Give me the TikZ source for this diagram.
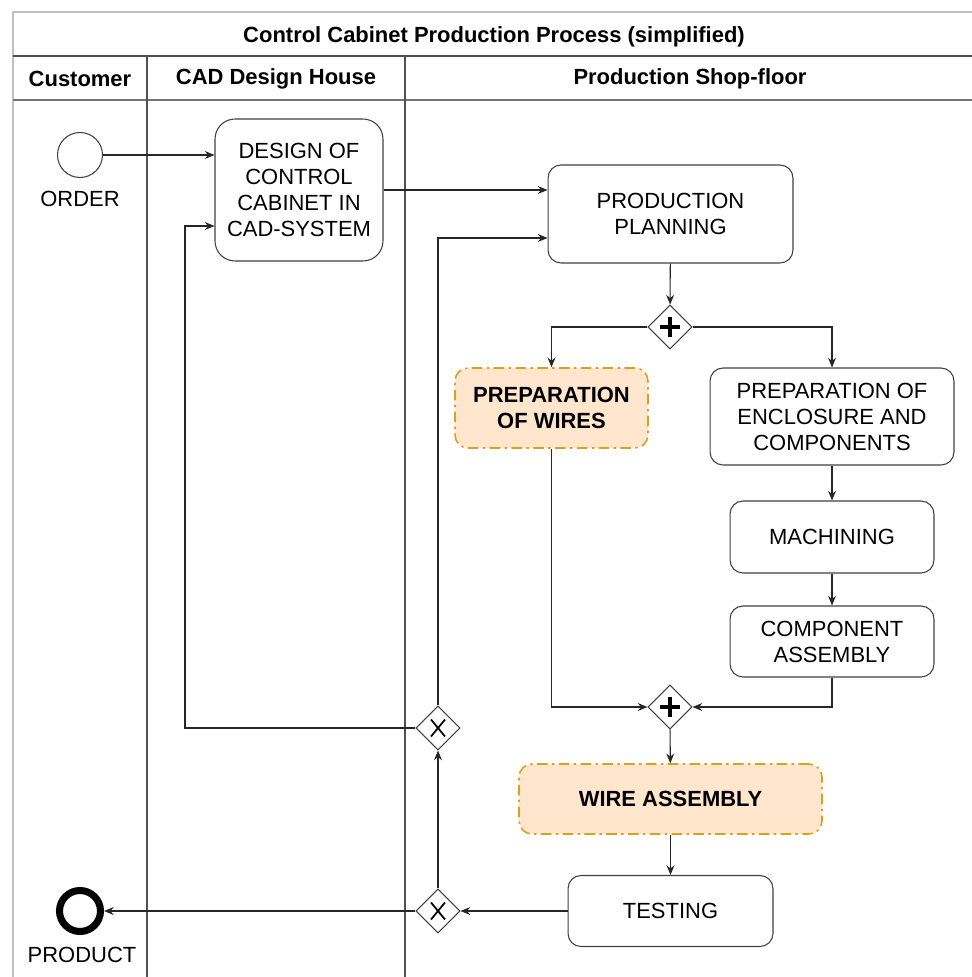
\documentclass[tikz,border=0pt]{standalone}
\usepackage{fontspec}
\setmainfont{Liberation Sans}
\usetikzlibrary{arrows.meta}
\usetikzlibrary{shapes.geometric}
\tikzset{>={Stealth[length=5.5pt,width=4.5pt]}}
\definecolor{wirefill}{HTML}{FFE6CC}
\definecolor{wiredraw}{HTML}{DBA11C}
\definecolor{poolgray}{HTML}{C0C0C0}
\definecolor{lanegray}{HTML}{505050}
\tikzset{
  txt/.style={font=\fontsize{12.5}{14.8}\selectfont, align=center},
  task/.style={txt, draw=black!75, line width=0.6pt, rounded corners=2.6mm, inner sep=0pt},
  wiretask/.style={task, font=\fontsize{12.5}{14.8}\selectfont\bfseries, fill=wirefill, draw=wiredraw,
    line width=0.9pt, dash pattern=on 6pt off 2.5pt on 1.4pt off 2.5pt},
  gate/.style={diamond, draw=black!75, line width=0.6pt, aspect=1, minimum width=0.88cm, minimum height=0.88cm, inner sep=0pt},
  andgate/.style={gate, path picture={\draw[black, line width=2.4pt] (path picture bounding box.center)
    +(-10,0) -- +(10,0) +(0,-10) -- +(0,10);}},
  xorgate/.style={gate, path picture={\draw[black, line width=1pt] (path picture bounding box.center)
    +(-7,-8.5) -- +(7,8.5) +(-7,8.5) -- +(7,-8.5);}},
  flow/.style={->, line width=0.6pt, draw=black!85},
}
\begin{document}
\begin{tikzpicture}[x=0.02cm, y=-0.02cm]
      \useasboundingbox (0,0) rectangle (972,977);
      % pool and lanes
      \draw[poolgray, line width=1pt] (13,977) -- (13,12) -- (972,12);
      \draw[lanegray, line width=0.8pt] (13,56) -- (972,56);
      \draw[lanegray!80, line width=1pt] (13,100) -- (972,100);
      \draw[lanegray, line width=0.6pt] (147,56) -- (147,977);
      \draw[lanegray, line width=0.6pt] (405,56) -- (405,977);
      \node[txt, font=\fontsize{12.5}{14.8}\selectfont\bfseries] (title) at (494,37) {Control Cabinet Production Process (simplified)};
      \node[txt, font=\fontsize{12.5}{14.8}\selectfont\bfseries] (customer) at (80,79) {Customer};
      \node[txt, font=\fontsize{12.5}{14.8}\selectfont\bfseries] (cadhouse) at (276,79) {CAD Design House};
      \node[txt, font=\fontsize{12.5}{14.8}\selectfont\bfseries] (shopfloor) at (690,79) {Production Shop-floor};
      % events
      \node[circle, draw=black!75, line width=0.6pt, minimum size=0.9cm, inner sep=0pt] (order) at (80,155) {};
      \node[txt] (orderlbl) at (80,199) {ORDER};
      \node[circle, draw=black, line width=4pt, minimum size=0.82cm, inner sep=0pt] (product) at (80,911) {};
      \node[txt] (productlbl) at (82,955) {PRODUCT};
      % tasks
      \node[task, minimum width=3.36cm, minimum height=2.84cm, rounded corners=4mm] (design) at (299,190) {DESIGN OF\\CONTROL\\CABINET IN\\CAD-SYSTEM};
      \node[task, minimum width=4.9cm, minimum height=1.96cm] (planning) at (670.5,214) {PRODUCTION\\PLANNING};
      \node[wiretask, minimum width=3.86cm, minimum height=1.6cm] (wires) at (551.5,408) {PREPARATION\\OF WIRES};
      \node[task, minimum width=4.88cm, minimum height=1.94cm] (enclosure) at (832,416.5) {PREPARATION OF\\ENCLOSURE AND\\COMPONENTS};
      \node[task, minimum width=4.08cm, minimum height=1.44cm] (machining) at (832,537) {MACHINING};
      \node[task, minimum width=4.08cm, minimum height=1.42cm] (compasm) at (832,641.5) {COMPONENT\\ASSEMBLY};
      \node[wiretask, minimum width=6.06cm, minimum height=1.4cm] (wireasm) at (670.5,799) {WIRE ASSEMBLY};
      \node[task, minimum width=4.1cm, minimum height=1.42cm] (testing) at (670.5,911) {TESTING};
      % gateways
      \node[andgate] (split) at (670,327) {};
      \node[andgate] (join) at (670,707) {};
      \node[xorgate] (retry) at (438,728) {};
      \node[xorgate] (check) at (438,911) {};
      \coordinate (back) at (185,226);
      % flows
      \draw[flow] (order) -- (order -| design.west);
      \draw[flow] (design) -- (design -| planning.west);
      \draw[flow] (planning) -- (split);
      \draw[flow] (split.west) -| (wires.north);
      \draw[flow] (split.east) -| (enclosure.north);
      \draw[flow] (enclosure) -- (machining);
      \draw[flow] (machining) -- (compasm);
      \draw[flow] (wires.south) |- (join.west);
      \draw[flow] (compasm.south) |- (join.east);
      \draw[flow] (join) -- (wireasm);
      \draw[flow] (wireasm) -- (testing);
      \draw[flow] (testing) -- (check);
      \draw[flow] (check) -- (product);
      \draw[flow] (check) -- (retry);
      \draw[flow] (retry.north) |- ([yshift=-0.48cm]planning.west);
      \draw[flow] (retry.west) -| (back) -- (back -| design.west);
\end{tikzpicture}
\end{document}
